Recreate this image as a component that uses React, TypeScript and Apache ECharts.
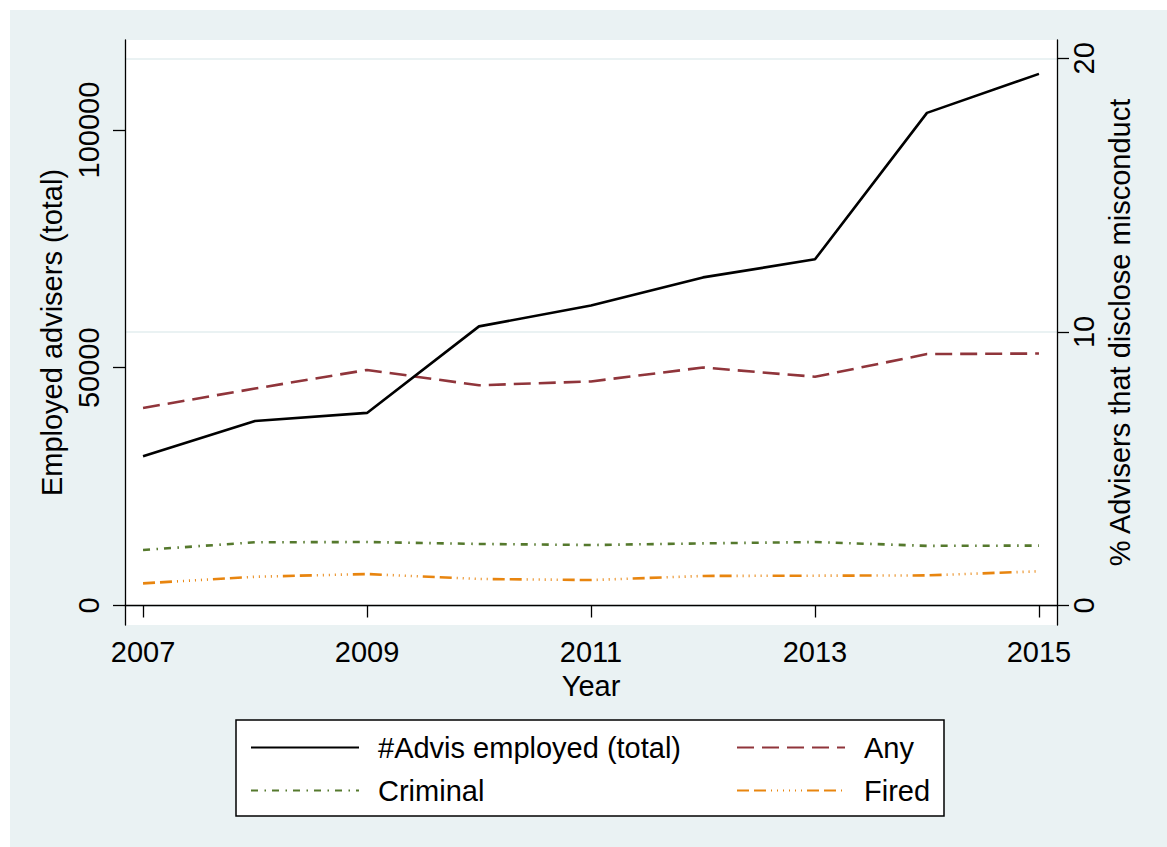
import React, { useEffect, useRef } from "react";
import * as echarts from "echarts";

const years = [2007, 2008, 2009, 2010, 2011, 2012, 2013, 2014, 2015];
const employedTotal = [31400, 38800, 40500, 58700, 63100, 69000, 72800, 103600, 111800];
const anyPct = [7.22, 7.93, 8.61, 8.05, 8.19, 8.7, 8.36, 9.19, 9.21];
const criminalPct = [2.03, 2.31, 2.32, 2.25, 2.21, 2.27, 2.32, 2.18, 2.19];
const firedPct = [0.81, 1.05, 1.15, 0.97, 0.93, 1.08, 1.09, 1.1, 1.25];

const xTickLabels = [2007, 2009, 2011, 2013, 2015];
const leftTicks = [0, 50000, 100000];
const rightTicks = [0, 10, 20];

const seriesNames = ["#Advis employed (total)", "Any", "Criminal", "Fired"];

const FONT = "Liberation Sans, Arial, Helvetica, sans-serif";
const BG = "#EAF2F3";

function pairs(vals: number[]) {
  return years.map((y, i) => [y, vals[i]]);
}

export default function App() {
  const ref = useRef<HTMLDivElement>(null);
  useEffect(() => {
    if (!ref.current) return;
    const chart = echarts.init(ref.current, undefined, { renderer: "svg" });
    const axisLine = { show: true, lineStyle: { color: "#000", width: 1.3 } };
    const axisTickBase = { show: true, length: 12, lineStyle: { color: "#000", width: 1.3 } };
    const labelBase = {
      color: "#000",
      fontSize: 29,
      fontFamily: FONT,
      formatter: (v: number) => String(v),
    };
    const nameStyle = { color: "#000", fontSize: 29, fontFamily: FONT };
    const legendBase = {
      orient: "vertical",
      top: 733,
      itemWidth: 108,
      itemHeight: 14,
      itemGap: 14,
      padding: 0,
      selectedMode: false,
      itemStyle: { opacity: 0 },
      textStyle: { color: "#000", fontSize: 29, fontFamily: FONT, lineHeight: 28, padding: [0, 0, 0, 14] },
    };
    chart.setOption({
      animation: false,
      backgroundColor: BG,
      textStyle: { fontFamily: FONT },
      grid: {
        left: 125,
        top: 40,
        width: 932,
        height: 585,
        show: true,
        backgroundColor: "#fff",
        borderWidth: 0,
      },
      xAxis: {
        type: "value",
        min: 2006.839,
        max: 2015.161,
        axisLine,
        axisTick: { ...axisTickBase, customValues: xTickLabels },
        axisLabel: { ...labelBase, customValues: xTickLabels, margin: 12 },
        splitLine: { show: false },
        name: "Year",
        nameLocation: "middle",
        nameGap: 46,
        nameTextStyle: nameStyle,
      },
      yAxis: [
        {
          type: "value",
          position: "left",
          min: -4101,
          max: 118927,
          axisLine,
          axisTick: { ...axisTickBase, customValues: leftTicks },
          axisLabel: { ...labelBase, customValues: leftTicks, rotate: 90, margin: 22 },
          splitLine: { show: false },
          name: "Employed advisers (total)",
          nameLocation: "middle",
          nameRotate: 90,
          nameGap: 50,
          nameTextStyle: nameStyle,
        },
        {
          type: "value",
          position: "right",
          min: -0.713,
          max: 20.67,
          alignTicks: false,
          axisLine,
          axisTick: { ...axisTickBase, customValues: rightTicks },
          axisLabel: { ...labelBase, customValues: rightTicks, rotate: 90, margin: 12 },
          splitLine: { show: true, lineStyle: { color: BG, width: 2 } },
          name: "% Advisers that disclose misconduct",
          nameLocation: "middle",
          nameRotate: 90,
          nameGap: 46,
          nameTextStyle: nameStyle,
        },
      ],
      legend: [
        { ...legendBase, data: [seriesNames[0], seriesNames[2]], left: 250 },
        { ...legendBase, data: [seriesNames[1], seriesNames[3]], left: 736 },
      ],
      graphic: [
        { type: "rect", left: 0, top: 0, shape: { width: 1167, height: 10 }, style: { fill: "#fff" }, silent: true },
        { type: "rect", left: 0, top: 0, shape: { width: 10, height: 847 }, style: { fill: "#fff" }, silent: true },
        {
          type: "rect",
          z: 1,
          shape: { x: 236, y: 720, width: 708, height: 96 },
          style: { fill: "#fff", stroke: "#000", lineWidth: 1.5 },
          silent: true,
        },
      ],
      series: [
        {
          name: seriesNames[0],
          type: "line",
          yAxisIndex: 0,
          data: pairs(employedTotal),
          symbol: "none",
          lineStyle: { color: "#000", width: 2.6 },
          itemStyle: { color: "#000" },
          z: 5,
        },
        {
          name: seriesNames[1],
          type: "line",
          yAxisIndex: 1,
          data: pairs(anyPct),
          symbol: "none",
          lineStyle: { color: "#90353B", width: 2.6, type: [17, 8] },
          itemStyle: { color: "#90353B" },
          z: 4,
        },
        {
          name: seriesNames[2],
          type: "line",
          yAxisIndex: 1,
          data: pairs(criminalPct),
          symbol: "none",
          lineStyle: { color: "#55792D", width: 2.6, type: [7, 6.5, 1.5, 6] },
          itemStyle: { color: "#55792D" },
          z: 3,
        },
        {
          name: seriesNames[3],
          type: "line",
          yAxisIndex: 1,
          data: pairs(firedPct),
          symbol: "none",
          lineStyle: { color: "#E8850F", width: 2.6, type: [12, 5, 12, 5, 1, 5, 1, 5, 1, 5, 1, 5, 1, 5, 1, 5] },
          itemStyle: { color: "#E8850F" },
          z: 3,
        },
      ],
    });
    return () => chart.dispose();
  }, []);
  return (
    <div
      ref={ref}
      style={{ position: "absolute", left: 0, top: 0, width: 1167, height: 847 }}
    />
  );
}
